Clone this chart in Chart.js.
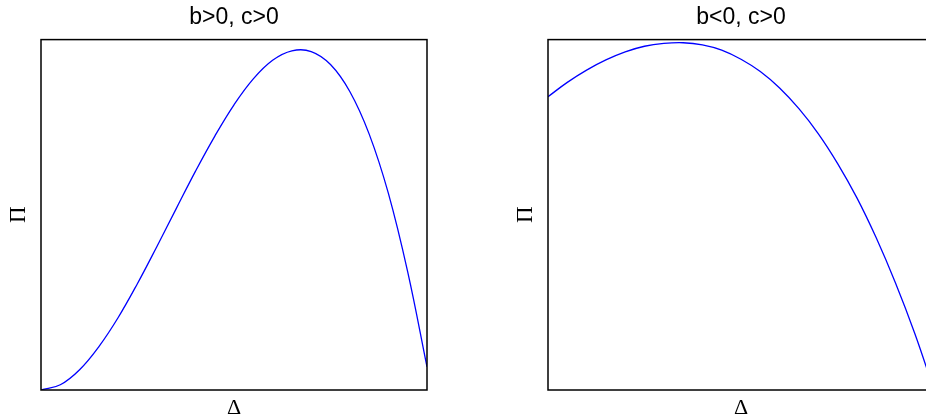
<!DOCTYPE html>
<html>
<head>
<meta charset="utf-8">
<script src="https://cdn.jsdelivr.net/npm/chart.js@4/dist/chart.umd.min.js"></script>
<style>
  html, body { margin: 0; padding: 0; background: #fff; overflow: hidden; width: 926px; height: 419px; }
  .panel { position: absolute; top: 0; width: 463px; height: 419px; }
  #p1 { left: 0; }
  #p2 { left: 507px; }
</style>
</head>
<body>
<div class="panel" id="p1"><canvas id="c1" width="463" height="419"></canvas></div>
<div class="panel" id="p2"><canvas id="c2" width="463" height="419"></canvas></div>
<script>
// Panel titles and axis symbols
const panelTitles = ['b>0, c>0', 'b<0, c>0'];
const xLabel = 'Δ';
const yLabel = 'Π';

// Δ sampled across the unit interval (shared by both panels)
const delta = [0, 0.05, 0.10, 0.15, 0.20, 0.25, 0.30, 0.35, 0.40, 0.45, 0.50,
               0.55, 0.60, 0.65, 0.70, 0.75, 0.80, 0.85, 0.90, 0.95, 1.0];

// Profit Π, normalised to [0, 1]
const piA = [0, 0.015, 0.058, 0.124, 0.207, 0.304, 0.409, 0.517, 0.624, 0.724, 0.814,
             0.888, 0.941, 0.968, 0.966, 0.929, 0.852, 0.731, 0.561, 0.337, 0.066];
const piB = [0.837, 0.878, 0.913, 0.942, 0.965, 0.981, 0.989, 0.991, 0.985, 0.970, 0.944,
             0.909, 0.862, 0.803, 0.732, 0.647, 0.549, 0.435, 0.306, 0.162, 0.0];

// Draws a closed box around the plotting area
const frameBox = {
  id: 'frameBox',
  afterDraw(chart) {
    const { ctx, chartArea: a } = chart;
    ctx.save();
    ctx.strokeStyle = '#000';
    ctx.lineWidth = 1.5;
    ctx.strokeRect(a.left, a.top, a.right - a.left, a.bottom - a.top);
    ctx.restore();
  }
};

function makePanel(canvasId, title, xs, ys) {
  const pts = xs.map((x, i) => ({ x: x, y: ys[i] }));
  return new Chart(document.getElementById(canvasId), {
    type: 'line',
    data: {
      datasets: [{
        data: pts,
        borderColor: '#0000ff',
        borderWidth: 1.3,
        pointRadius: 0,
        fill: false,
        tension: 0.4
      }]
    },
    options: {
      responsive: false,
      animation: false,
      layout: { padding: { left: 0, right: 36, top: 0, bottom: 0 } },
      plugins: {
        legend: { display: false },
        tooltip: { enabled: false },
        title: {
          display: true,
          text: title,
          fullSize: false,
          color: '#000',
          font: { family: '"Liberation Sans", Arial, sans-serif', size: 23, weight: 'normal', lineHeight: 1.2 },
          padding: { top: 4, bottom: 8 }
        }
      },
      scales: {
        x: {
          type: 'linear',
          min: 0, max: 1,
          grid: { display: false },
          border: { display: false },
          ticks: { display: false },
          title: {
            display: true,
            text: xLabel,
            color: '#000',
            font: { family: '"Liberation Serif", "Times New Roman", serif', size: 22, lineHeight: 1.0 },
            padding: { top: 1, bottom: 0 }
          },
          afterFit(axis) { axis.height = 29; }
        },
        y: {
          type: 'linear',
          min: 0, max: 1,
          grid: { display: false },
          border: { display: false },
          ticks: { display: false },
          title: {
            display: true,
            text: yLabel,
            color: '#000',
            font: { family: '"Liberation Serif", "Times New Roman", serif', size: 23, lineHeight: 1.2 },
            padding: { top: 5, bottom: 0 }
          },
          afterFit(axis) { axis.width = 41; }
        }
      }
    },
    plugins: [frameBox]
  });
}

makePanel('c1', panelTitles[0], delta, piA);
makePanel('c2', panelTitles[1], delta, piB);
</script>
</body>
</html>
